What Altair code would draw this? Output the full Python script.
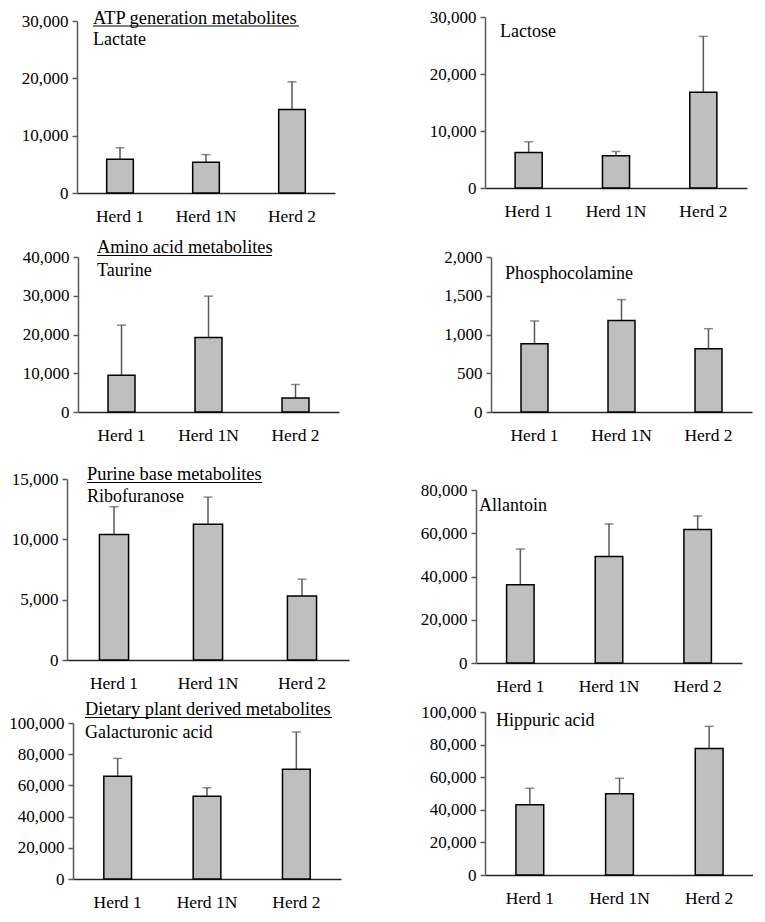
import altair as alt
import pandas as pd

FONT = "Liberation Serif"

herds = ["Herd 1", "Herd 1N", "Herd 2"]

metabolites = ["Lactate", "Lactose", "Taurine", "Phosphocolamine",
               "Ribofuranose", "Allantoin", "Galacturonic acid", "Hippuric acid"]
groups = ["ATP generation metabolites", "", "Amino acid metabolites", "",
          "Purine base metabolites", "", "Dietary plant derived metabolites", ""]

lactate_mean = [5900, 5350, 14550]
lactate_upper = [7900, 6700, 19400]
lactose_mean = [6250, 5650, 16800]
lactose_upper = [8100, 6400, 26600]
taurine_mean = [9500, 19200, 3600]
taurine_upper = [22400, 29900, 7100]
phospho_mean = [880, 1180, 815]
phospho_upper = [1175, 1450, 1075]
ribo_mean = [10400, 11250, 5300]
ribo_upper = [12700, 13500, 6700]
allantoin_mean = [36200, 49200, 61700]
allantoin_upper = [52700, 64300, 68000]
galact_mean = [65800, 53000, 70300]
galact_upper = [77300, 58500, 94200]
hippuric_mean = [43100, 49900, 77600]
hippuric_upper = [53200, 59300, 91200]

means = [lactate_mean, lactose_mean, taurine_mean, phospho_mean,
         ribo_mean, allantoin_mean, galact_mean, hippuric_mean]
uppers = [lactate_upper, lactose_upper, taurine_upper, phospho_upper,
          ribo_upper, allantoin_upper, galact_upper, hippuric_upper]

y_max = [30000, 30000, 40000, 2000, 15000, 80000, 100000, 100000]
ticks_30k = [0, 10000, 20000, 30000]
ticks_40k = [0, 10000, 20000, 30000, 40000]
ticks_2k = [0, 500, 1000, 1500, 2000]
ticks_15k = [0, 5000, 10000, 15000]
ticks_80k = [0, 20000, 40000, 60000, 80000]
ticks_100k = [0, 20000, 40000, 60000, 80000, 100000]
tick_values = [ticks_30k, ticks_30k, ticks_40k, ticks_2k,
               ticks_15k, ticks_80k, ticks_100k, ticks_100k]

# ---- layout (page pixel geometry of each panel) ----
CELL_W, CELL_H = 380, 228
DX = [4, -4]
DY = [0, 0, -3, -8]
col_widths = [380, 365]
row_heights = [228, 228, 228, 200]

# x axis start, x axis end, y of zero, y of top tick
geom = [(73, 331, 191, 19), (489, 751, 186, 15),
        (74, 335, 410, 255), (495, 756, 410, 255),
        (63, 345, 661, 480), (480, 746, 664, 491),
        (69, 337, 885, 729), (489, 758, 881, 718)]
# label left x, metabolite baseline y, group baseline y, underline end x
text_pos = [(89, 43, 21.5, 295), (504, 35, None, None),
            (93, 274, 251, 268), (509, 277, None, None),
            (83, 503, 481, 258), (483, 512, None, None),
            (81, 744, 721, 328), (500, 732, None, None)]


def lx(x, c):
    return x - (8 + CELL_W * c) + DX[c]


def ly(y, r):
    return y - (8 + CELL_H * r) + DY[r]


panels = []
for i in range(8):
    r, c = divmod(i, 2)
    x0, x1, yz, yt = geom[i]
    X0, X1, YZ, YT = lx(x0, c), lx(x1, c), ly(yz, r), ly(yt, r)
    W, H = col_widths[c], row_heights[r]

    df = pd.DataFrame({"herd": herds, "mean": means[i], "upper": uppers[i]})

    xenc = alt.X(
        "herd:N", sort=herds,
        scale=alt.Scale(range=[X0, X1], paddingInner=0.69, paddingOuter=0.345),
        axis=alt.Axis(title=None, labelAngle=0, ticks=False, tickSize=0,
                      offset=-(H - YZ), domainColor="#262626", domainWidth=1.5,
                      labelFont=FONT, labelFontSize=17.5, labelColor="black",
                      labelPadding=14),
    )
    yscale = alt.Scale(domain=[0, y_max[i]], range=[YZ, YT], nice=False)
    yaxis = alt.Axis(title=None, values=tick_values[i], format=",d", grid=False,
                     offset=-X0, domainColor="#595959", domainWidth=1.5,
                     tickColor="#595959", tickWidth=1.5, tickSize=5,
                     labelFont=FONT, labelFontSize=17, labelColor="black",
                     labelPadding=4)

    base = alt.Chart(df)
    err = base.mark_rule(color="#595959", strokeWidth=1.5).encode(
        x=xenc, y=alt.Y("mean:Q", scale=yscale, axis=yaxis), y2="upper:Q")
    cap = base.mark_tick(orient="horizontal", size=9, thickness=1.5,
                         color="#595959").encode(
        x=xenc, y=alt.Y("upper:Q", scale=yscale, axis=yaxis))
    bars = base.mark_bar(fill="#BFBFBF", stroke="black", strokeWidth=1.5).encode(
        x=xenc, y=alt.Y("mean:Q", scale=yscale, axis=yaxis))

    layers = [err, cap, bars]
    tx, ty, gy, ux = text_pos[i]
    layers.append(
        alt.Chart(pd.DataFrame({"label": [metabolites[i]]}))
        .mark_text(align="left", baseline="alphabetic", font=FONT, fontSize=18,
                   color="black")
        .encode(x=alt.value(lx(tx, c)), y=alt.value(ly(ty, r)), text="label:N"))
    if groups[i]:
        gdf = pd.DataFrame({"label": [groups[i]]})
        layers.append(
            alt.Chart(gdf)
            .mark_text(align="left", baseline="alphabetic", font=FONT, fontSize=18.4,
                       color="black")
            .encode(x=alt.value(lx(tx, c)), y=alt.value(ly(gy, r)), text="label:N"))
        layers.append(
            alt.Chart(gdf).mark_rule(color="black", strokeWidth=1)
            .encode(x=alt.value(lx(tx, c)), x2=alt.value(lx(ux, c)),
                    y=alt.value(ly(gy + 2.5, r))))

    panels.append(alt.layer(*layers).properties(width=W, height=H))

chart = (
    alt.concat(*panels, columns=2, spacing=0, bounds="flush")
    .properties(padding=0, background="white")
    .configure_view(stroke=None)
)

chart.save("out.html", embed_options={"renderer": "svg", "actions": False})
